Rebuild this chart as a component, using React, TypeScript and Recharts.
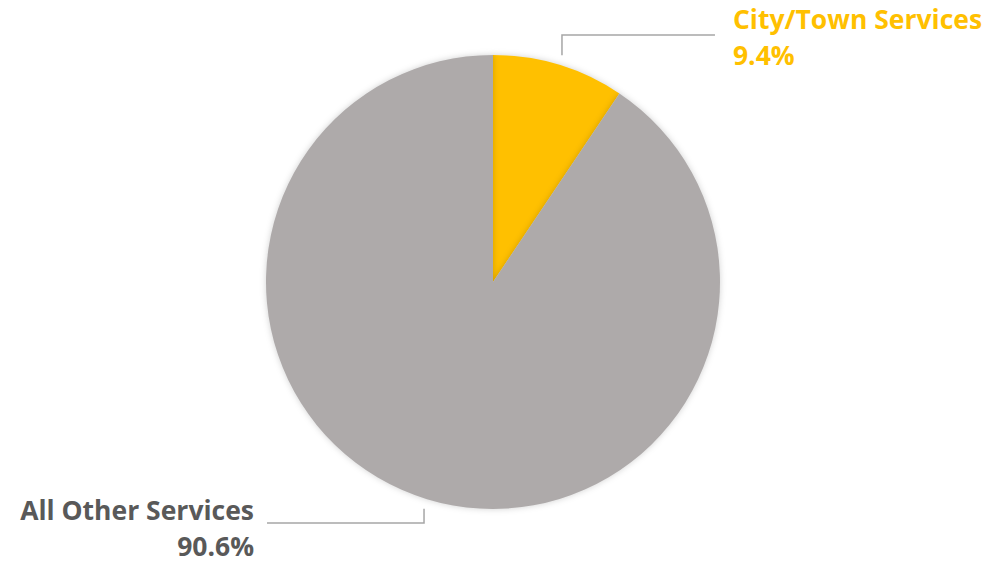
import React from 'react';
import { PieChart, Pie, Cell } from 'recharts';

// Share of services
const categories = ['City/Town Services', 'All Other Services'];
const shares = [9.4, 90.6];
const colors = ['#FFC000', '#AEAAAA'];
const labelColors = ['#FFC000', '#595959'];

const data = categories.map((name, i) => ({ name, value: shares[i] }));

const RAD = Math.PI / 180;

const renderLabel = (props: any) => {
  const { cx, cy, midAngle, outerRadius, index } = props;
  const cos = Math.cos(-midAngle * RAD);
  const sin = Math.sin(-midAngle * RAD);
  const sx = cx + (outerRadius + 10) * cos;
  const sy = cy + (outerRadius + 10) * sin;
  const up = sin < 0;
  const ey = up ? cy - outerRadius - 20 : cy + outerRadius + 14;
  const right = cos >= 0;
  const ex = right ? sx + 153 : sx - 157;
  const tx = right ? ex + 18 : ex - 13;
  const color = labelColors[index];
  const ty = up ? ey - 6 : ey - 3;
  return (
    <g>
      <polyline
        points={`${sx},${sy} ${sx},${ey} ${ex},${ey}`}
        fill="none"
        stroke="#A6A6A6"
        strokeWidth={1.5}
      />
      <text
        x={tx}
        y={ty}
        textAnchor={right ? 'start' : 'end'}
        fill={color}
        fontFamily="'Open Sans', sans-serif"
        fontWeight={700}
        fontSize={26.5}
      >
        <tspan x={tx} dy={0}>{props.name}</tspan>
        <tspan x={tx} dy={36}>{`${shares[index].toFixed(1)}%`}</tspan>
      </text>
    </g>
  );
};

const App: React.FC = () => {
  return (
    <div style={{ position: 'absolute', top: 0, left: 0, width: 995, height: 562, background: '#fff' }}>
      <style>{`.recharts-pie-sector path { filter: drop-shadow(0 0 3px rgba(0,0,0,0.18)); } .recharts-surface { overflow: visible; }`}</style>
      <PieChart width={995} height={562} margin={{ top: 0, right: 0, bottom: 0, left: 0 }}>
        <Pie
          data={data}
          dataKey="value"
          nameKey="name"
          cx={493}
          cy={282}
          outerRadius={227}
          startAngle={90}
          endAngle={-270}
          stroke="none"
          label={renderLabel}
          labelLine={false}
          isAnimationActive={false}
        >
          {data.map((entry, i) => (
            <Cell key={`cell-${i}`} fill={colors[i]} />
          ))}
        </Pie>
      </PieChart>
    </div>
  );
};

export default App;
